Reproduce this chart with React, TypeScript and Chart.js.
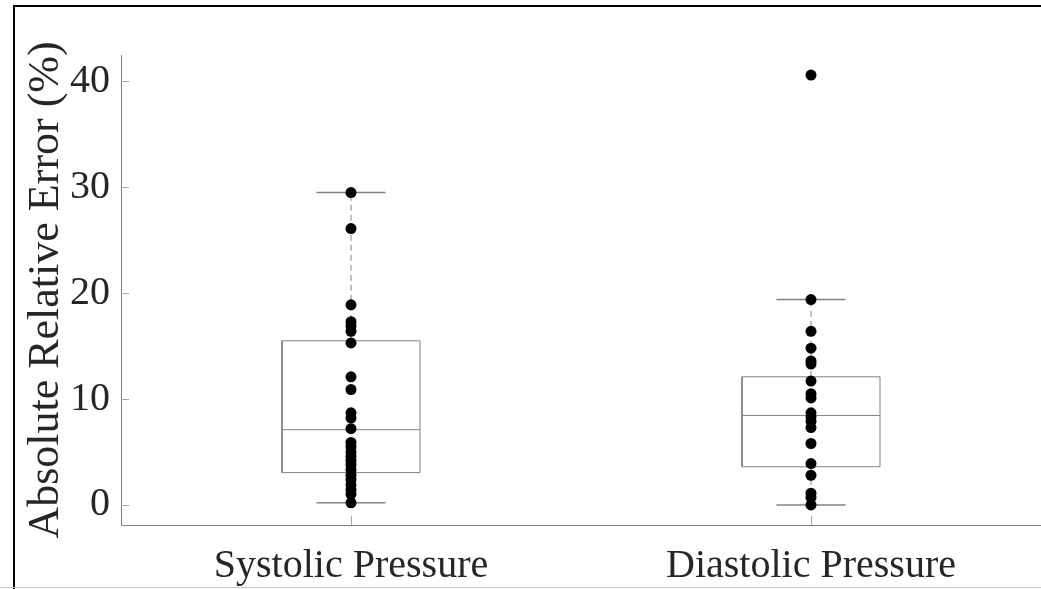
import { useEffect, useRef } from "react";
import { Chart, registerables } from "chart.js";

Chart.register(...registerables);

const categories = ["Systolic Pressure", "Diastolic Pressure"];
const systolicValues = [
  29.5, 26.1, 18.9, 17.3, 16.9, 16.4, 15.3, 12.1, 10.9, 8.7, 8.2, 7.2, 5.9,
  5.5, 5.0, 4.6, 4.2, 3.8, 3.3, 2.8, 2.4, 1.9, 1.4, 1.0, 0.2,
];
const diastolicValues = [
  40.6, 19.4, 16.4, 14.8, 13.6, 13.3, 11.7, 10.5, 10.1, 8.7, 8.3, 7.9, 7.3,
  5.8, 3.9, 2.8, 1.1, 0.7, 0.0,
];
const q1Values = [3.05, 3.6];
const medianValues = [7.1, 8.45];
const q3Values = [15.5, 12.1];
const whiskerLow = [0.2, 0.0];
const whiskerHigh = [29.5, 19.4];
const yTicks = [0, 10, 20, 30, 40];

const FONT = "'Liberation Serif', 'Times New Roman', serif";
const TEXT = "#262626";
const LINE = "#808080";
const BOX_HALF = 0.15;
const CAP_HALF = 0.075;

function lineSet(points: { x: number; y: number }[], dashed = false, width = 1) {
  return {
    type: "scatter" as const,
    data: points,
    showLine: true,
    borderColor: LINE,
    borderWidth: width,
    borderDash: dashed ? [6, 4] : [],
    pointRadius: 0,
    pointHoverRadius: 0,
    fill: false,
    order: 2,
  };
}

const framePlugin = {
  id: "frameAndTicks",
  afterDraw(chart: any) {
    const { ctx, scales } = chart;
    const xs = scales.x;
    const ys = scales.y;
    const area = chart.chartArea;
    ctx.save();
    // inward tick marks
    ctx.strokeStyle = "#a6a6a6";
    ctx.lineWidth = 1;
    ctx.beginPath();
    yTicks.forEach((v) => {
      const py = Math.round(ys.getPixelForValue(v)) + 0.5;
      ctx.moveTo(area.left, py);
      ctx.lineTo(area.left + 8, py);
    });
    categories.forEach((_, i) => {
      const px = Math.round(xs.getPixelForValue(i + 1)) + 0.5;
      ctx.moveTo(px, area.bottom);
      ctx.lineTo(px, area.bottom - 9);
    });
    ctx.stroke();
    // outer frame
    ctx.strokeStyle = "#000";
    ctx.lineWidth = 2;
    ctx.beginPath();
    ctx.moveTo(14, chart.height);
    ctx.lineTo(14, 6);
    ctx.lineTo(chart.width, 6);
    ctx.stroke();
    ctx.strokeStyle = "#c8c8c8";
    ctx.lineWidth = 1;
    ctx.beginPath();
    ctx.moveTo(0, 587.5);
    ctx.lineTo(chart.width, 587.5);
    ctx.stroke();
    ctx.restore();
  },
};

export default function App() {
  const canvasRef = useRef<HTMLCanvasElement | null>(null);

  useEffect(() => {
    if (!canvasRef.current) return;
    const datasets: any[] = [
      {
        type: "scatter",
        data: [
          ...systolicValues.map((v) => ({ x: 1, y: v })),
          ...diastolicValues.map((v) => ({ x: 2, y: v })),
        ],
        pointRadius: 5.5,
        pointHoverRadius: 5.5,
        backgroundColor: "#000",
        borderWidth: 0,
        order: 0,
      },
    ];
    categories.forEach((_, i) => {
      const x = i + 1;
      const q1 = q1Values[i];
      const q3 = q3Values[i];
      const med = medianValues[i];
      const lo = whiskerLow[i];
      const hi = whiskerHigh[i];
      datasets.push(
        lineSet([
          { x: x - BOX_HALF, y: q1 },
          { x: x + BOX_HALF, y: q1 },
          { x: x + BOX_HALF, y: q3 },
          { x: x - BOX_HALF, y: q3 },
          { x: x - BOX_HALF, y: q1 },
        ]),
        lineSet([
          { x: x - BOX_HALF, y: med },
          { x: x + BOX_HALF, y: med },
        ]),
        lineSet([
          { x, y: q3 },
          { x, y: hi },
        ], true),
        lineSet([
          { x, y: lo },
          { x, y: q1 },
        ], true),
        lineSet([
          { x: x - CAP_HALF, y: hi },
          { x: x + CAP_HALF, y: hi },
        ], false, 1.5),
        lineSet([
          { x: x - CAP_HALF, y: lo },
          { x: x + CAP_HALF, y: lo },
        ], false, 1.5)
      );
    });

    const chart = new Chart(canvasRef.current, {
      type: "scatter",
      data: { datasets },
      plugins: [framePlugin],
      options: {
        animation: false,
        responsive: false,
        maintainAspectRatio: false,
        layout: { autoPadding: false, padding: { left: 20, top: 55, right: 0, bottom: 0 } },
        plugins: {
          legend: { display: false },
          tooltip: { enabled: false },
        },
        scales: {
          x: {
            type: "linear",
            min: 0.5,
            max: 2.5,
            grid: { display: false, drawTicks: false },
            border: { display: true, color: LINE, width: 1 },
            afterBuildTicks: (s: any) => {
              s.ticks = categories.map((_, i) => ({ value: i + 1 }));
            },
            afterFit: (s: any) => {
              s.height = 64;
            },
            ticks: {
              autoSkip: false,
              maxRotation: 0,
              padding: 17,
              color: TEXT,
              font: { family: FONT, size: 40 },
              callback: (v: any) => categories[Math.round(Number(v)) - 1] ?? "",
            },
          },
          y: {
            type: "linear",
            min: -1.9,
            max: 42.5,
            grid: { display: false, drawTicks: false },
            border: { display: true, color: LINE, width: 1 },
            afterBuildTicks: (s: any) => {
              s.ticks = yTicks.map((v) => ({ value: v }));
            },
            afterFit: (s: any) => {
              s.width = 101;
            },
            ticks: {
              padding: 11,
              color: TEXT,
              font: { family: FONT, size: 40 },
            },
            title: {
              display: true,
              text: "Absolute Relative Error (%)",
              color: TEXT,
              font: { family: FONT, size: 44 },
              padding: { top: 0, bottom: 0 },
            },
          },
        },
      },
    });
    return () => chart.destroy();
  }, []);

  return (
    <div style={{ position: "fixed", left: 0, top: 0, width: 1041, height: 589, background: "#fff" }}>
      <canvas ref={canvasRef} width={1041} height={589} style={{ display: "block", width: 1041, height: 589 }} />
    </div>
  );
}
